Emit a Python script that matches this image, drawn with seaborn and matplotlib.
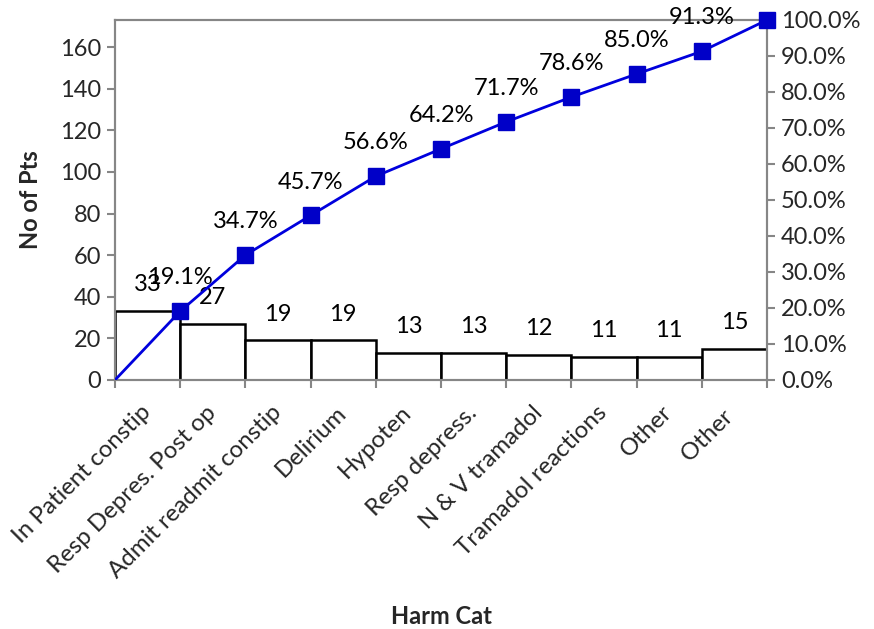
import numpy as np
import pandas as pd
import matplotlib
matplotlib.use("Agg")
import matplotlib.pyplot as plt
import seaborn as sns
from matplotlib.ticker import FuncFormatter, FixedLocator

categories = ["In Patient constip", "Resp Depres. Post op", "Admit readmit constip",
              "Delirium", "Hypoten", "Resp depress.", "N & V tramadol",
              "Tramadol reactions", "Other", "Other "]
counts = [33, 27, 19, 19, 13, 13, 12, 11, 11, 15]
cum_pct = [19.1, 34.7, 45.7, 56.6, 64.2, 71.7, 78.6, 85.0, 91.3, 100.0]
left_ticks = [0, 20, 40, 60, 80, 100, 120, 140, 160]
right_ticks = [0, 10, 20, 30, 40, 50, 60, 70, 80, 90, 100]

sns.set_theme(style="white")
plt.rcParams["font.family"] = ["Lato", "DejaVu Sans"]

axis_grey = "#868686"
line_blue = "#0000DD"
marker_blue = "#0000C8"
fs = 17

fig = plt.figure(figsize=(8.74, 6.29), dpi=100)
ax = fig.add_axes([115 / 874, 1 - 380 / 629, (767 - 115) / 874, (380 - 20) / 629])

df = pd.DataFrame({"cat": categories, "n": counts})
sns.barplot(data=df, x="cat", y="n", ax=ax, color="white", width=1.0,
            edgecolor="black", linewidth=1.8, saturation=1)

total = sum(counts)
ax.set_xlim(-0.5, len(categories) - 0.5)
ax.set_ylim(0, total)

# bar value labels
for i, v in enumerate(counts):
    ax.annotate(str(v), (i, v), xytext=(0, 19), textcoords="offset points",
                ha="center", va="center", fontsize=fs, color="black")

# category boundaries as major ticks, names on minor ticks at bar centres
ax.xaxis.set_major_locator(FixedLocator(np.arange(-0.5, len(categories), 1.0)))
ax.xaxis.set_minor_locator(FixedLocator(np.arange(len(categories))))
ax.set_xticklabels([""] * (len(categories) + 1))
ax.set_xticklabels(categories, minor=True, rotation=45, ha="right", va="center",
                   rotation_mode="anchor", fontsize=fs + 0.3)
ax.tick_params(axis="x", which="major", length=6, width=1.5, color=axis_grey, direction="out", bottom=True)
ax.tick_params(axis="x", which="minor", length=0, pad=21)

ax.set_yticks(left_ticks)
ax.tick_params(axis="y", length=6, width=1.5, color=axis_grey, direction="out",
               labelsize=fs, left=True, pad=4)
ax.set_xlabel("Harm Cat", fontsize=fs, fontweight="bold", va="center")
ax.xaxis.set_label_coords(0.5, (380 - 617) / 360)
ax.set_ylabel("No of Pts", fontsize=fs, fontweight="bold", va="center")
ax.yaxis.set_label_coords((30 - 115) / 652, 0.5)

for s in ax.spines.values():
    s.set_visible(True)
    s.set_color(axis_grey)
    s.set_linewidth(1.5)

# cumulative percentage on secondary axis
ax2 = ax.twinx()
xs = [-0.5] + [i + 0.5 for i in range(len(categories))]
ys = [0.0] + [p / 100 for p in cum_pct]
sns.lineplot(x=xs, y=ys, ax=ax2, color=line_blue, linewidth=2, zorder=3)
ax2.plot(xs[1:], ys[1:], linestyle="none", marker="s", markersize=11,
         color=marker_blue, zorder=4, clip_on=False)
ax2.set_ylim(0, 1)
ax2.set_xlim(-0.5, len(categories) - 0.5)
ax2.set_yticks([t / 100 for t in right_ticks])
ax2.yaxis.set_major_formatter(FuncFormatter(lambda v, p: f"{v * 100:.1f}%"))
ax2.tick_params(axis="y", length=6, width=1.5, color=axis_grey, direction="out",
                labelsize=fs, right=True, pad=4)
for s in ax2.spines.values():
    s.set_visible(True)
    s.set_color(axis_grey)
    s.set_linewidth(1.5)

for x, p in zip(xs[1:], cum_pct):
    if p < 100:
        ax2.annotate(f"{p:.1f}%", (x, p / 100), xytext=(0, 24), textcoords="offset points",
                     ha="center", va="center", fontsize=fs, color="black")

fig.savefig("out.png", dpi=100)
